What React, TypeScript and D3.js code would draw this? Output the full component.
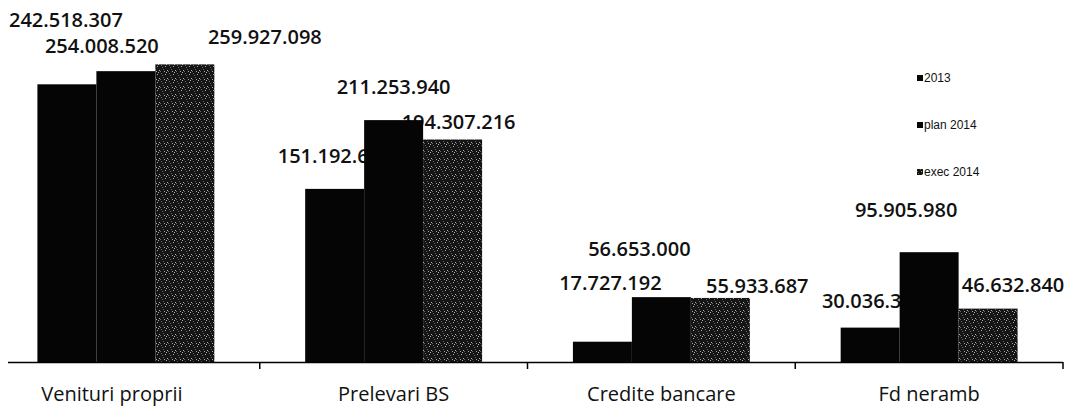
import React from "react";
import * as d3 from "d3";

const categories = ["Venituri proprii", "Prelevari BS", "Credite bancare", "Fd neramb"];
const seriesNames = ["2013", "plan 2014", "exec 2014"];
const values2013 = [242518307, 151192600, 17727192, 30036300];
const valuesPlan2014 = [254008520, 211253940, 56653000, 95905980];
const valuesExec2014 = [259927098, 194307216, 55933687, 46632840];

// label offsets (dx from bar centre, dy from bar top) imitating the original's placement
const labelDx = [
  [-1, -24, 80],
  [0, 0, 6],
  [8, -22, 37],
  [3, -23, 25],
];
const labelDy = [
  [-65, -26, -28],
  [-33, -34, -18],
  [-59, -49, -12],
  [-27, -43, -24],
];
const categoryDx = [-14, 0, 0, 0];

const W = 1072;
const H = 407;
const baseY = 362;

export default function App() {
  const seriesValues = [values2013, valuesPlan2014, valuesExec2014];
  const x0 = d3.scaleBand<string>().domain(categories).range([-8, 1063]).paddingInner(0).paddingOuter(0);
  const x1 = d3
    .scaleBand<string>()
    .domain(seriesNames)
    .range([0, x0.bandwidth()])
    .paddingInner(0)
    .paddingOuter(0.77);
  const y = d3.scaleLinear().domain([0, 300e6]).range([baseY, baseY - 300 * 1.145]);
  const loc = d3.formatLocale({ thousands: ".", grouping: [3], decimal: ",", currency: ["", ""] });
  const fmt = loc.format(",d");

  const fills = ["#050505", "#050505", "url(#speckle)"];
  const speckles = [
    [1, 1], [5, 2], [3, 5], [7, 6], [0, 7], [6, 0], [2, 3], [4, 7],
  ];

  const labels: React.ReactNode[] = [];
  const bars: React.ReactNode[] = [];
  categories.forEach((c, ci) => {
    seriesNames.forEach((s, si) => {
      const v = seriesValues[si][ci];
      const bx = (x0(c) as number) + (x1(s) as number);
      const bw = x1.bandwidth();
      const top = y(v);
      bars.push(
        <rect key={`b${ci}-${si}`} x={bx} y={top} width={bw} height={baseY - top} fill={fills[si]} />
      );
      labels.push(
        <text
          key={`l${ci}-${si}`}
          x={bx + bw / 2 + labelDx[ci][si]}
          y={top + labelDy[ci][si]}
          textAnchor="middle"
          dominantBaseline="central"
          fontFamily="'Open Sans', sans-serif"
          fontSize={20}
          fontWeight={600}
          fill="#111"
        >
          {fmt(v)}
        </text>
      );
    });
  });

  const ticks = categories.map((c) => (x0(c) as number) + x0.step());

  return (
    <svg width={W} height={H} style={{ position: "absolute", left: 0, top: 0, background: "#fff" }}>
      <defs>
        <pattern id="speckle" width={8} height={8} patternUnits="userSpaceOnUse">
          <rect width={8} height={8} fill="#151515" />
          {speckles.map(([px, py], i) => (
            <rect key={i} x={px} y={py} width={1} height={1} fill={i % 2 ? "#aaa" : "#666"} />
          ))}
        </pattern>
      </defs>
      <rect width={W} height={H} fill="#fff" />
      {labels}
      {bars}
      <line x1={8} x2={1063} y1={baseY + 0.5} y2={baseY + 0.5} stroke="#000" strokeWidth={1.5} />
      {ticks.map((t, i) => (
        <line key={i} x1={t} x2={t} y1={baseY} y2={baseY + 7} stroke="#000" strokeWidth={1.5} />
      ))}
      {categories.map((c, i) => (
        <text
          key={c}
          x={(x0(c) as number) + x0.bandwidth() / 2 + categoryDx[i]}
          y={393}
          textAnchor="middle"
          dominantBaseline="central"
          fontFamily="'Open Sans', sans-serif"
          fontSize={20}
          fill="#111"
        >
          {c}
        </text>
      ))}
      {seriesNames.map((s, i) => (
        <g key={s} transform={`translate(917, ${78 + i * 47})`}>
          <rect x={0} y={-3} width={6} height={6} fill={fills[i]} />
          <text
            x={7}
            y={0}
            dominantBaseline="central"
            fontFamily="'Liberation Sans Narrow', 'Liberation Sans', Arial, sans-serif"
            fontSize={12}
            fill="#111"
          >
            {s}
          </text>
        </g>
      ))}
    </svg>
  );
}
